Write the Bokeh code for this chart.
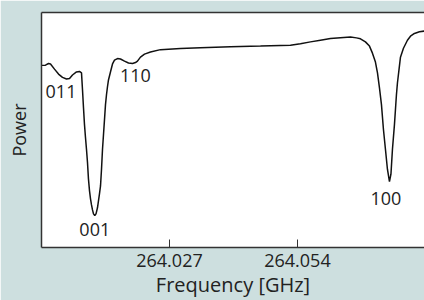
from bokeh.plotting import figure
from bokeh.models import Range1d, FixedTicker, LinearAxis
from bokeh.core.properties import value
from bokeh.embed import file_html
from bokeh.resources import INLINE

# Frequency in GHz and relative power (arbitrary units, 0-100)
freq = [264.00000, 264.00084, 264.00148, 264.00190, 264.00274, 264.00359, 264.00443,
        264.00527, 264.00591, 264.00654, 264.00738, 264.00802, 264.00844, 264.00865,
        264.00886, 264.00907, 264.00928, 264.00949, 264.00970, 264.00991, 264.01013,
        264.01034, 264.01055, 264.01076, 264.01097, 264.01124, 264.01150, 264.01181,
        264.01202, 264.01223, 264.01245, 264.01266, 264.01287, 264.01308, 264.01329,
        264.01350, 264.01371, 264.01392, 264.01413, 264.01455, 264.01498, 264.01540,
        264.01603, 264.01666, 264.01751, 264.01835, 264.01920, 264.01983, 264.02025,
        264.02088, 264.02173, 264.02299, 264.02510, 264.02932, 264.03354, 264.03987,
        264.04620, 264.05252, 264.05463, 264.05674, 264.05885, 264.06096, 264.06307,
        264.06518, 264.06645, 264.06729, 264.06834, 264.06919, 264.06982, 264.07045,
        264.07088, 264.07130, 264.07172, 264.07214, 264.07256, 264.07298, 264.07341,
        264.07372, 264.07404, 264.07446, 264.07467, 264.07488, 264.07509, 264.07541,
        264.07573, 264.07636, 264.07720, 264.07784, 264.07868, 264.07973, 264.08079]
power = [77.5, 77.6, 78.3, 78.1, 75.9, 73.8, 72.4,
         71.7, 71.9, 73.4, 74.7, 74.9, 74.3, 67.1,
         59.5, 52.3, 46.8, 41.8, 36.3, 29.1, 24.1,
         20.7, 18.1, 16.0, 14.3, 13.6, 14.3, 16.9,
         19.8, 22.8, 26.2, 33.3, 41.8, 48.1, 54.4,
         60.8, 65.0, 68.4, 71.3, 74.7, 78.1, 79.7,
         80.4, 80.2, 79.3, 78.5, 78.3, 78.7, 79.3,
         81.0, 82.3, 83.2, 84.2, 84.7, 85.0, 85.4,
         85.7, 86.1, 86.7, 87.5, 88.2, 88.9, 89.3,
         89.6, 89.2, 88.8, 87.5, 85.7, 82.7, 78.9,
         74.3, 67.9, 60.8, 50.2, 41.8, 33.3, 28.0,
         31.2, 41.8, 52.3, 58.6, 65.0, 70.0, 75.5,
         81.0, 84.8, 88.2, 89.9, 91.1, 91.8, 92.1]

# Peak annotations (mode labels)
peak_labels = ["011", "001", "110", "100"]
peak_freq = [264.00411, 264.01124, 264.01982, 264.07267]
peak_power = [66.4, 7.7, 73.0, 20.7]

x_ticks = [264.027, 264.054]

BG = "#cddfdf"
FONT = "Open Sans"
TXT = "#222222"

p = figure(width=424, height=300, output_backend="svg", toolbar_location=None,
           x_range=Range1d(264.000, 264.0808), y_range=Range1d(0, 100),
           x_axis_type=None, y_axis_type=None,
           min_border_left=41, min_border_right=0, min_border_top=12, min_border_bottom=51)
p.background_fill_color = "white"
p.border_fill_color = BG
p.outline_line_color = None
p.grid.visible = False

xa = LinearAxis(ticker=FixedTicker(ticks=x_ticks), axis_label="Frequency [GHz]")
xa.major_tick_in = 8
xa.major_tick_out = 0
xa.minor_tick_line_color = None
xa.major_tick_line_color = "#333333"
xa.axis_line_color = "#333333"
xa.axis_line_width = 1.5
xa.major_label_text_font = FONT
xa.major_label_text_font_size = "18px"
xa.major_label_text_color = TXT
xa.major_label_standoff = 6
xa.axis_label_text_font = FONT
xa.axis_label_text_font_size = "20px"
xa.axis_label_text_font_style = "normal"
xa.axis_label_text_color = TXT
xa.axis_label_standoff = 1
p.add_layout(xa, "below")

ya = LinearAxis(ticker=FixedTicker(ticks=[]), axis_label="Power")
ya.major_tick_line_color = None
ya.minor_tick_line_color = None
ya.major_label_text_font_size = "0px"
ya.axis_line_color = "#333333"
ya.axis_line_width = 1.5
ya.axis_label_text_font = FONT
ya.axis_label_text_font_size = "18px"
ya.axis_label_text_font_style = "normal"
ya.axis_label_text_color = TXT
ya.axis_label_standoff = 11
p.add_layout(ya, "left")

ta = LinearAxis(ticker=FixedTicker(ticks=[]))
ta.major_tick_line_color = None
ta.minor_tick_line_color = None
ta.major_label_text_font_size = "0px"
ta.axis_line_color = "#333333"
ta.axis_line_width = 1.5
p.add_layout(ta, "above")

p.line(freq, power, line_color="#111111", line_width=1.5)

p.text(x=peak_freq, y=peak_power, text=peak_labels, text_font=value(FONT),
       text_font_size="18px", text_color=TXT, text_align="center", text_baseline="middle")

open("out.html", "w").write(file_html(p, INLINE))
